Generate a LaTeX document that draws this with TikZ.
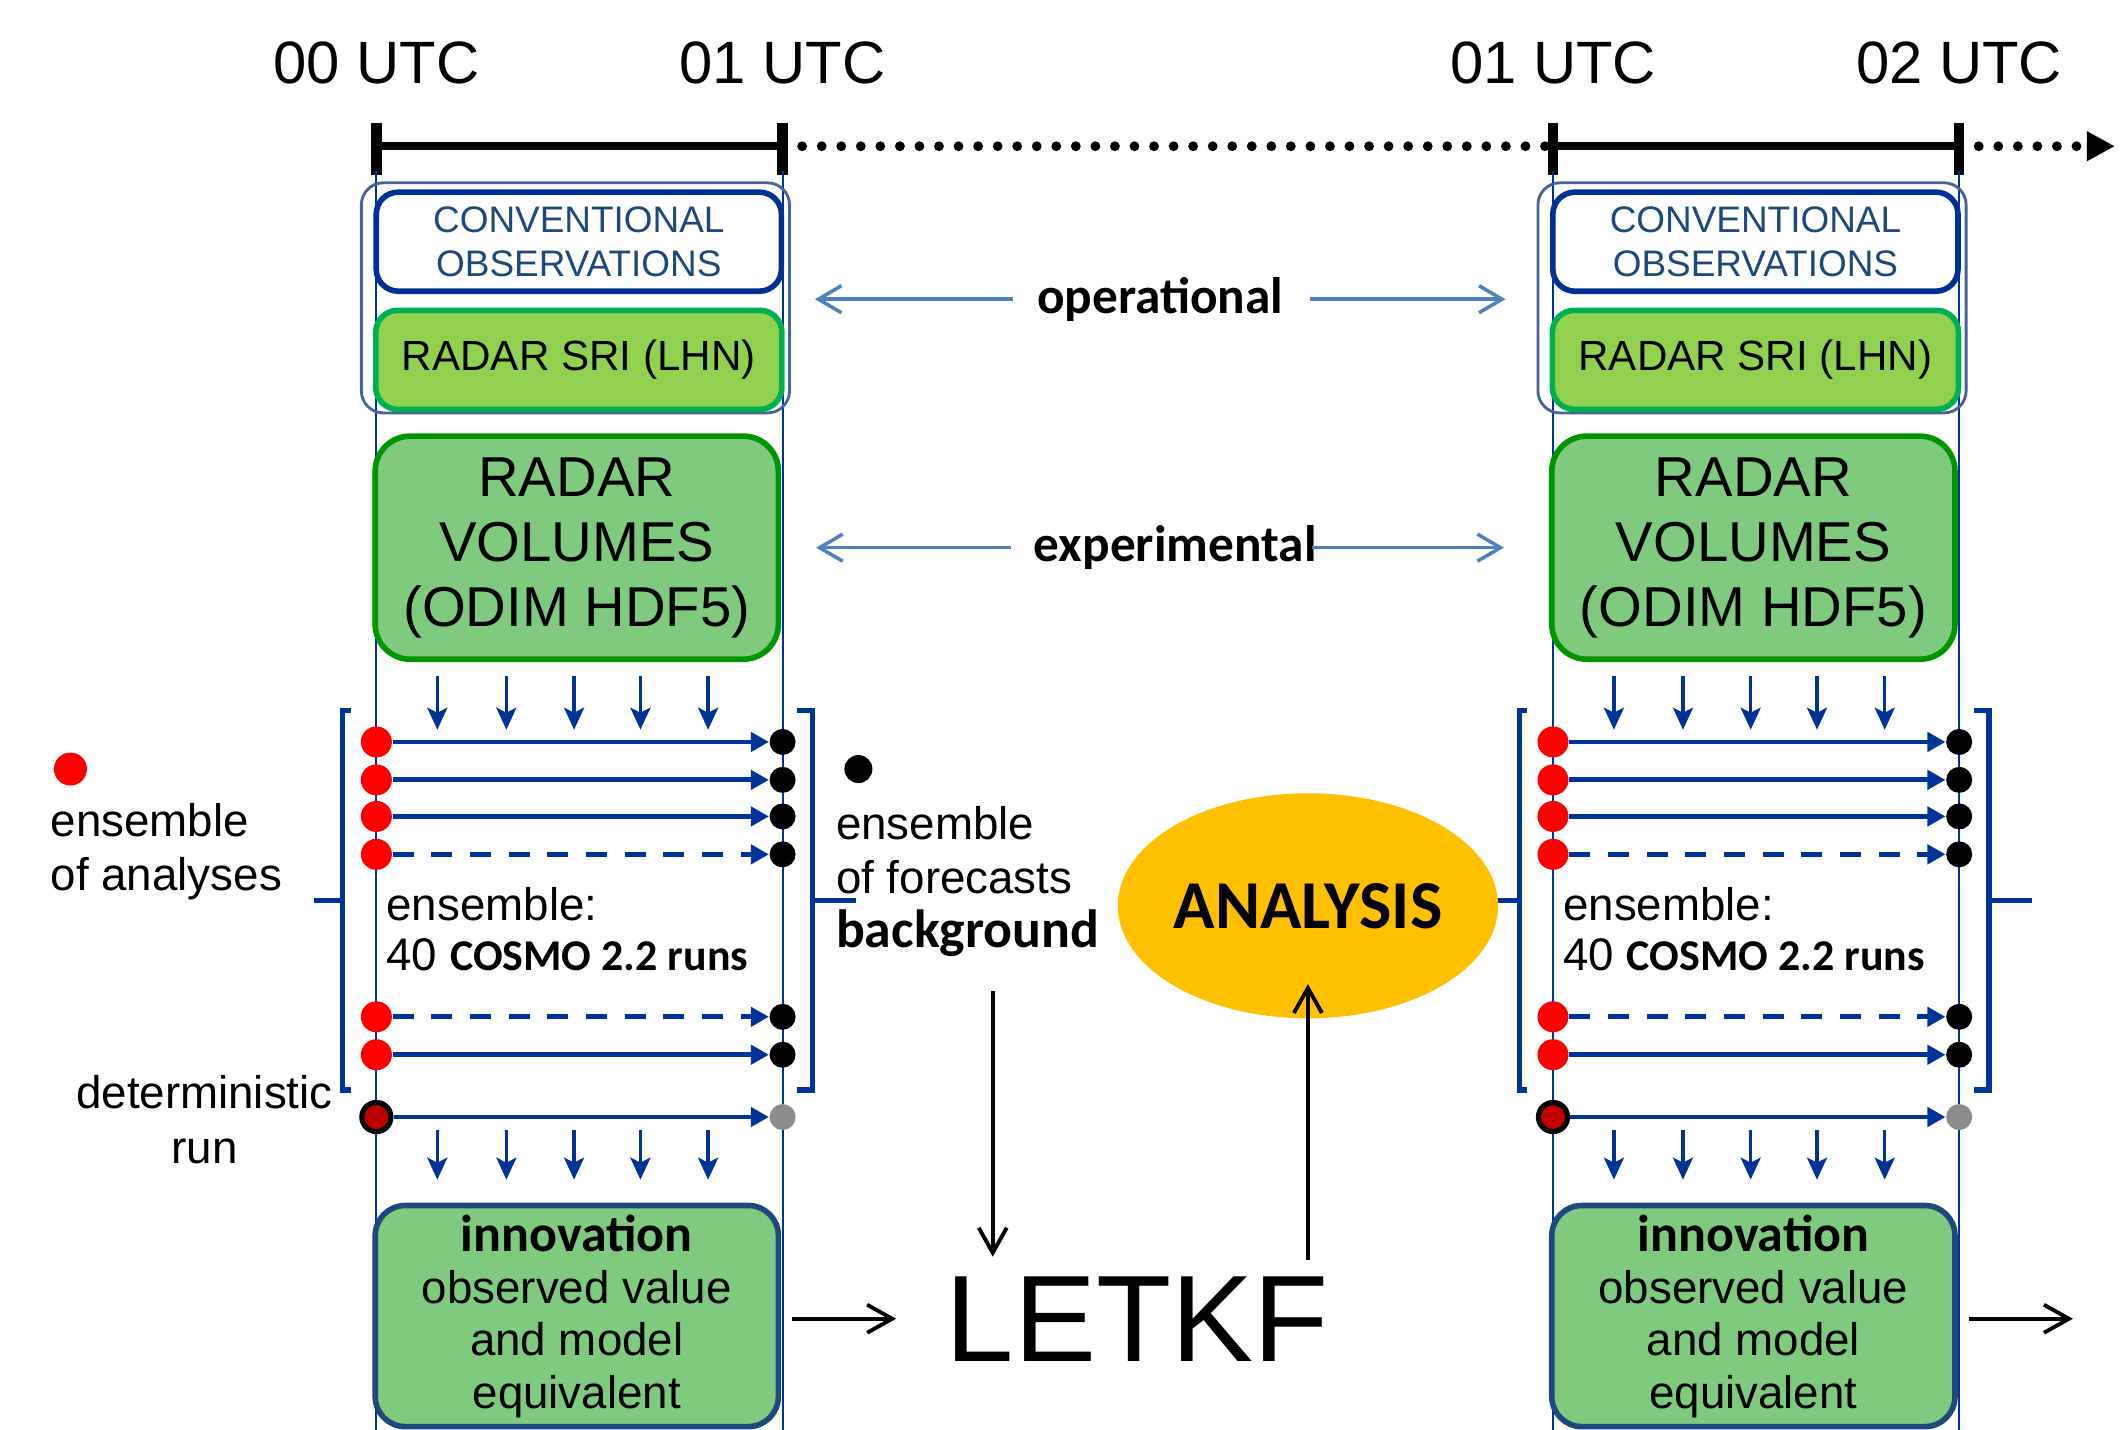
\documentclass[tikz,border=0pt]{standalone}
\usepackage{fontspec}
\setmainfont{Liberation Sans}
\newfontfamily\calib{Carlito}
\usepackage{tikz}
\usetikzlibrary{arrows.meta,shapes.geometric,positioning,calc}
\definecolor{runblue}{RGB}{0,51,153}
\definecolor{framegray}{RGB}{70,100,150}
\definecolor{convborder}{RGB}{0,48,150}
\definecolor{convtext}{RGB}{31,73,125}
\definecolor{srifill}{RGB}{146,208,80}
\definecolor{sriborder}{RGB}{0,176,80}
\definecolor{volfill}{RGB}{128,202,128}
\definecolor{volborder}{RGB}{0,150,0}
\definecolor{innoborder}{RGB}{31,73,125}
\definecolor{obsblue}{RGB}{79,129,189}
\definecolor{anafill}{RGB}{255,192,0}
\definecolor{dotred}{RGB}{255,0,0}
\definecolor{detred}{RGB}{192,0,0}
\definecolor{dotgray}{RGB}{140,140,140}

\begin{document}
\begin{tikzpicture}[
    x=0.01354cm, y=-0.01354cm,
    every node/.style={inner sep=0pt},
    utc/.style={font=\fontsize{17}{20}\selectfont},
    timebar/.style={line width=2.4pt},
    tickmark/.style={line width=2.9pt},
    timedots/.style={line width=2.8pt, line cap=round, dash pattern=on 0pt off 5.56pt},
    colline/.style={draw=runblue, line width=0.6pt},
    obsframe/.style={rectangle, draw=framegray, line width=0.8pt, rounded corners=0.22cm, minimum width=4.28cm, minimum height=2.30cm},
    convbox/.style={rectangle, draw=convborder, fill=white, line width=1.6pt, rounded corners=0.22cm, minimum width=4.05cm, minimum height=0.99cm, align=center, text=convtext, font=\fontsize{10.5}{12.7}\selectfont},
    sribox/.style={rectangle, draw=sriborder, fill=srifill, line width=1.6pt, rounded corners=0.22cm, minimum width=4.06cm, minimum height=0.99cm, font=\fontsize{12}{14}\selectfont},
    volbox/.style={rectangle, draw=volborder, fill=volfill, line width=1.6pt, rounded corners=0.35cm, minimum width=4.03cm, minimum height=2.23cm, align=center, font=\fontsize{16}{18.5}\selectfont},
    innobox/.style={rectangle, draw=innoborder, fill=volfill, line width=1.6pt, rounded corners=0.3cm, minimum width=4.03cm, minimum height=2.21cm, align=center, font=\fontsize{13}{14.9}\selectfont},
    drop/.style={draw=runblue, line width=1pt, -{Stealth[length=2.2mm, width=2mm, inset=0.5mm]}},
    runline/.style={draw=runblue, line width=1.4pt, -{Triangle[length=1.8mm, width=1.9mm]}},
    rundash/.style={dash pattern=on 6pt off 5pt},
    reddot/.style={circle, fill=dotred, minimum size=0.31cm},
    blackdot/.style={circle, fill=black, minimum size=0.26cm},
    detdot/.style={circle, fill=detred, draw=black, line width=1.5pt, minimum size=0.29cm},
    graydot/.style={circle, fill=dotgray, minimum size=0.26cm},
    bracket/.style={draw=runblue, line width=1.5pt},
    keytext/.style={font=\fontsize{13}{15.4}\selectfont},
    ensnote/.style={align=left, font=\fontsize{13}{14.2}\selectfont},
    midlabel/.style={font=\calib\bfseries\fontsize{14.6}{16}\selectfont},
    obsarrow/.style={draw=obsblue, line width=1pt, -{Straight Barb[length=2.3mm, width=2.7mm]}},
    flow/.style={draw=black, line width=1.1pt, -{Straight Barb[length=2.5mm, width=2.8mm]}},
    analysis/.style={ellipse, fill=anafill, minimum width=3.68cm, minimum height=2.25cm, font=\calib\bfseries\fontsize{19.5}{24}\selectfont},
    bigtext/.style={font=\fontsize{35}{40}\selectfont}
]
    \useasboundingbox (0,0) rectangle (1568,1056);

    % Two assimilation cycles
    \foreach \s/\dx/\ta/\tb in {A/0/00/01, B/869/01/02}{
      \begin{scope}[shift={(\dx,0)}]
        % time axis
        \coordinate (tl\s) at (278,108);
        \coordinate (tr\s) at (578,108);
        \draw[timebar] (tl\s) -- (tr\s);
        \draw[tickmark] (tl\s) ++(0,-17) -- ++(0,38);
        \draw[tickmark] (tr\s) ++(0,-17) -- ++(0,38);
        \node[utc, above=0.61cm of tl\s] (utcl\s) {\ta\ UTC};
        \node[utc, above=0.61cm of tr\s] (utcr\s) {\tb\ UTC};
        \draw[colline] (278,126) -- (278,1056);
        \draw[colline] (578,126) -- (578,1056);

        % observations
        \node[obsframe] (obs\s) at (425,220) {};
        \node[convbox] (conv\s) at (427.5,178.5) {CONVENTIONAL\\OBSERVATIONS};
        \node[sribox, below=0.135cm of conv\s] (sri\s) {RADAR SRI (LHN)};
        \node[volbox] (vol\s) at (426,404.5) {RADAR\\VOLUMES\\(ODIM HDF5)};
        \node[innobox] (inno\s) at (426,972) {{\calib\bfseries\fontsize{14.8}{14.9}\selectfont innovation}\\observed value\\and model\\equivalent};

        \foreach \x in {323,374,424,473,523}{
          \draw[drop] (\x,0 |- vol\s.south) ++(0,10) -- ++(0,40);
          \draw[drop] (\x,0 |- inno\s.north) ++(0,-54) -- ++(0,37);
        }

        % ensemble runs
        \foreach \i/\y/\pat in {1/548/solid, 2/576/solid, 3/603/solid, 4/631/rundash, 5/751/rundash, 6/779/solid}{
          \node[reddot] (red\i\s) at (278,\y) {};
          \node[blackdot] (blk\i\s) at (578,\y) {};
          \draw[runline, \pat] (red\i\s) -- (blk\i\s);
        }
        \node[detdot] (det\s) at (278,825) {};
        \node[graydot] (gry\s) at (578,825) {};
        \draw[runline] (det\s) -- (gry\s);

        \draw[bracket] (259,525) -- (253,525) -- (253,805) -- (259,805);
        \draw[bracket] (253,665) -- (232,665);
        \draw[bracket] (589,525) -- (600,525) -- (600,805) -- (589,805);
        \draw[bracket] (600,665) -- (632,665);

        \node[ensnote, anchor=west] (ens\s) at (285,686) {ensemble:\\40 {\calib\bfseries\fontsize{12.5}{14.2}\selectfont COSMO 2.2 runs}};
      \end{scope}
    }

    \coordinate (tEnd) at (1562,108);
    \draw[timedots] (trA) -- (tlB);
    \draw[timedots, -{Triangle[length=2.8mm, width=2.8mm]}] (trB) -- (tEnd);

    % Legend
    \node[reddot, minimum size=0.33cm] (redkey) at (52,568) {};
    \node[keytext, align=left, anchor=west] (anakey) at (37,629) {ensemble\\of analyses};
    \node[keytext, align=center] (detkey) at (151,827) {deterministic\\run};
    \node[blackdot, minimum size=0.28cm] (blkkey) at (634,568) {};
    \node[keytext, align=left, anchor=west] (fcst) at (617,651) {ensemble\\of forecasts\\{\calib\bfseries\fontsize{15.3}{15.4}\selectfont background}};

    % Data streams
    \node[midlabel] (oper) at (857,221) {operational};
    \node[midlabel] (exper) at (868,404.5) {experimental};
    \draw[obsarrow, shorten <=0.24cm, shorten >=0.24cm] (oper) -- (oper -| obsA.east);
    \draw[obsarrow, shorten <=0.26cm, shorten >=0.31cm] (oper) -- (oper -| obsB.west);
    \draw[obsarrow, shorten <=0.22cm, shorten >=0.35cm] (exper) -- (volA);
    \draw[obsarrow, shorten <=-0.05cm, shorten >=0.45cm] (exper) -- (volB);

    % LETKF and analysis
    \node[bigtext] (letkf) at (840,974) {LETKF};
    \node[analysis] (ana) at (966,669) {ANALYSIS};
    \coordinate (nextcycle) at (1531,974);
    \draw[flow, shorten <=0.34cm, shorten >=0.19cm] ([xshift=0.25cm]fcst.south) -- ([xshift=0.25cm]fcst.south |- letkf.north);
    \draw[flow, shorten <=0.16cm, shorten >=-0.35cm] (letkf.north -| ana.south) -- (ana.south);
    \draw[flow, shorten <=0.11cm, shorten >=0.49cm] (innoA.east |- letkf) -- (letkf);
    \draw[flow, shorten <=0.11cm] (innoB.east |- nextcycle) -- (nextcycle);
\end{tikzpicture}
\end{document}
